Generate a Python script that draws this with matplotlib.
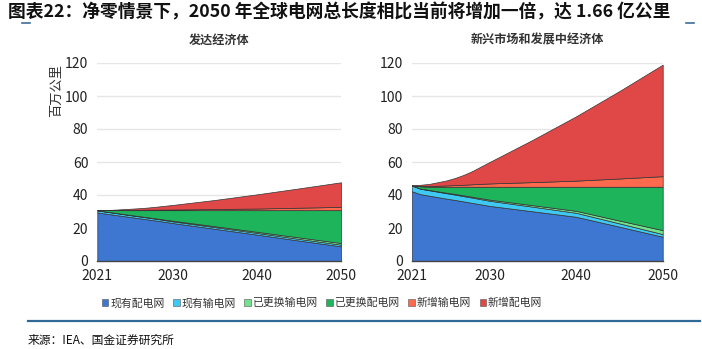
import matplotlib
matplotlib.use("Agg")
import matplotlib.pyplot as plt
from matplotlib.patches import Patch
from matplotlib.lines import Line2D

plt.rcParams['font.family'] = ['Noto Sans CJK SC', 'DejaVu Sans']

years = [2021, 2022, 2023, 2025, 2026, 2027, 2028, 2030, 2035, 2040, 2045, 2050]
series_names = ["现有配电网", "现有输电网", "已更换输电网", "已更换配电网", "新增输电网", "新增配电网"]
colors = ["#3D77D1", "#3EC8F2", "#72E38C", "#1DB45C", "#FF6A4F", "#E04848"]

# Advanced economies, million km (stacked layers)
adv_existing_dist = [29.4, 28.7, 28.0, 26.6, 25.9, 25.2, 24.5, 23.0, 19.5, 16.0, 12.4, 8.9]
adv_existing_trans = [1.3, 1.2, 1.2, 1.1, 1.1, 1.1, 1.05, 1.0, 1.0, 1.0, 1.0, 1.0]
adv_replaced_trans = [0.0, 0.05, 0.1, 0.15, 0.18, 0.2, 0.27, 0.4, 0.6, 0.7, 0.9, 1.0]
adv_replaced_dist = [0.1, 0.85, 1.5, 2.95, 3.62, 4.3, 4.98, 6.4, 9.7, 13.1, 16.5, 19.9]
adv_new_trans = [0.0, 0.05, 0.1, 0.2, 0.25, 0.3, 0.33, 0.4, 0.7, 1.0, 1.5, 2.0]
adv_new_dist = [0.0, 0.05, 0.2, 0.7, 0.95, 1.3, 1.77, 2.8, 5.5, 8.6, 11.7, 14.9]

# Emerging market and developing economies, million km (stacked layers)
eme_existing_dist = [42.3, 40.5, 39.6, 37.8, 37.0, 36.1, 35.2, 33.4, 30.1, 26.8, 20.8, 14.7]
eme_existing_trans = [3.5, 3.3, 3.3, 3.3, 3.25, 3.2, 3.2, 3.1, 2.8, 2.4, 2.0, 1.6]
eme_replaced_trans = [0.0, 0.1, 0.2, 0.3, 0.4, 0.5, 0.55, 0.7, 0.9, 1.2, 1.7, 2.4]
eme_replaced_dist = [0.0, 1.4, 1.9, 3.6, 4.35, 5.2, 6.05, 7.8, 11.2, 14.6, 20.5, 26.3]
eme_new_trans = [0.0, 0.2, 0.4, 0.8, 1.0, 1.2, 1.5, 2.0, 2.8, 3.7, 5.0, 6.4]
eme_new_dist = [0.0, 0.7, 1.3, 3.0, 4.3, 6.0, 8.0, 13.0, 25.7, 39.0, 53.0, 67.6]

adv = [adv_existing_dist, adv_existing_trans, adv_replaced_trans,
       adv_replaced_dist, adv_new_trans, adv_new_dist]
eme = [eme_existing_dist, eme_existing_trans, eme_replaced_trans,
       eme_replaced_dist, eme_new_trans, eme_new_dist]

fig = plt.figure(figsize=(7.02, 3.49), dpi=100)
W, H = 702, 349

def px_axes(x0, x1, ytop, ybot):
    return fig.add_axes([x0 / W, 1 - ybot / H, (x1 - x0) / W, (ybot - ytop) / H])

ax1 = px_axes(97.3, 341, 63, 261)
ax2 = px_axes(411.7, 662.7, 63, 261)

for ax, data, title in [(ax1, adv, "发达经济体"), (ax2, eme, "新兴市场和发展中经济体")]:
    ax.stackplot(years, *data, colors=colors, edgecolor="#333333", linewidth=0.5, zorder=3)
    ax.set_xlim(2021, 2050)
    ax.set_ylim(0, 120)
    ax.set_yticks([0, 20, 40, 60, 80, 100, 120])
    ax.set_xticks([2021, 2030, 2040, 2050])
    ax.grid(axis="y", color="#E6E6E6", linewidth=1, zorder=0)
    for s in ["top", "right", "left"]:
        ax.spines[s].set_visible(False)
    ax.spines["bottom"].set_color("#444444")
    ax.spines["bottom"].set_linewidth(1.0)
    ax.spines["bottom"].set_zorder(4)
    ax.tick_params(axis="both", length=0, labelsize=10, colors="#222222", pad=6)
    ax.tick_params(axis="y", pad=6.5)
    ax.set_title(title, fontsize=8.7, fontweight="bold", color="#333333", pad=14)

ax1.set_ylabel("百万公里", fontsize=9.5, color="#333333", labelpad=2)
ax1.yaxis.set_label_coords(-0.14, 0.86)

# Headline and rules
fig.text(8 / W, 1 - 12 / H, "图表22：净零情景下，2050 年全球电网总长度相比当前将增加一倍，达 1.66 亿公里",
         fontsize=12.8, fontweight="bold", color="#111111", va="center", ha="left")
fig.add_artist(Line2D([22 / W, 30 / W], [1 - 23 / H, 1 - 23 / H], color="#3C6E98", linewidth=1.2))
fig.add_artist(Line2D([686 / W, 694 / W], [1 - 23 / H, 1 - 23 / H], color="#3C6E98", linewidth=1.2))
fig.add_artist(Line2D([28 / W, 700 / W], [1 - 321 / H, 1 - 321 / H], color="#2F6A96", linewidth=1.6))
fig.text(28 / W, 1 - 340 / H, "来源：IEA、国金证券研究所", fontsize=8.5, color="#111111", va="center", ha="left")

handles = [Patch(facecolor=c, edgecolor="#555555", linewidth=0.4) for c in colors]
fig.legend(handles, series_names, loc="center", bbox_to_anchor=(322 / W, 1 - 303 / H), ncol=6,
           frameon=False, fontsize=7.8, handlelength=0.6, handleheight=0.6, handletextpad=0.15,
           columnspacing=0.8, labelcolor="#333333")

fig.savefig("out.png", dpi=100)
